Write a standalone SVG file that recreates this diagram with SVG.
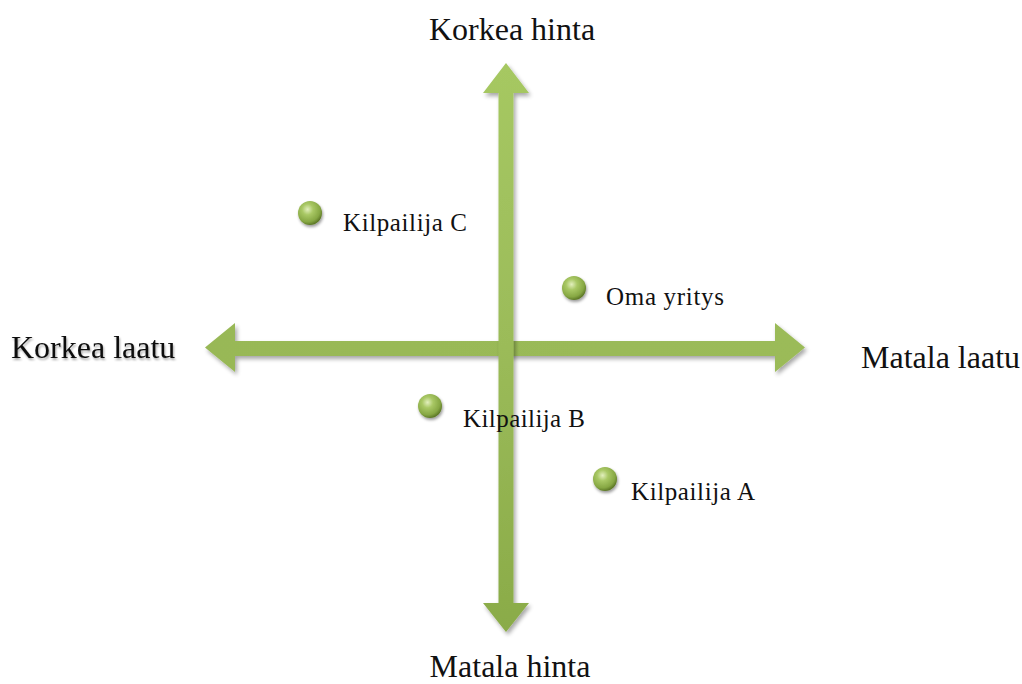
<svg xmlns="http://www.w3.org/2000/svg" width="1022" height="684" viewBox="0 0 1022 684">
  <defs>
    <style>
      .axis { font-family: "Liberation Serif", "Times New Roman", serif; font-size: 32px; fill: #111; }
      .lbl { font-family: "Liberation Serif", "Times New Roman", serif; font-size: 25px; fill: #111; }
      .arrow { stroke: none; filter: url(#shadow); }
      .ball { fill: url(#ballGrad); filter: url(#ballShadow); }
    </style>
    <linearGradient id="vGrad" x1="0" y1="0" x2="0" y2="1">
      <stop offset="0" stop-color="#a6c862"/>
      <stop offset="0.5" stop-color="#9bbb59"/>
      <stop offset="1" stop-color="#8aab48"/>
    </linearGradient>
    <linearGradient id="hGrad" x1="0" y1="0" x2="1" y2="0">
      <stop offset="0" stop-color="#98b856"/>
      <stop offset="1" stop-color="#9bbb59"/>
    </linearGradient>
    <radialGradient id="ballGrad" cx="0.4" cy="0.35" r="0.65">
      <stop offset="0" stop-color="#e2efbd"/>
      <stop offset="0.35" stop-color="#a9c865"/>
      <stop offset="0.8" stop-color="#86a743"/>
      <stop offset="1" stop-color="#5f7a28"/>
    </radialGradient>
    <filter id="shadow" x="-20%" y="-20%" width="140%" height="140%">
      <feGaussianBlur in="SourceAlpha" stdDeviation="2"/>
      <feOffset dx="2" dy="3" result="b"/>
      <feComponentTransfer><feFuncA type="linear" slope="0.35"/></feComponentTransfer>
      <feMerge><feMergeNode/><feMergeNode in="SourceGraphic"/></feMerge>
    </filter>
    <filter id="ballShadow" x="-50%" y="-50%" width="200%" height="200%">
      <feGaussianBlur in="SourceAlpha" stdDeviation="1.5"/>
      <feOffset dx="1" dy="2" result="b"/>
      <feComponentTransfer><feFuncA type="linear" slope="0.4"/></feComponentTransfer>
      <feMerge><feMergeNode/><feMergeNode in="SourceGraphic"/></feMerge>
    </filter>
    <filter id="textShadow" x="-10%" y="-30%" width="120%" height="160%">
      <feGaussianBlur in="SourceAlpha" stdDeviation="1.2"/>
      <feOffset dx="1" dy="2" result="b"/>
      <feComponentTransfer><feFuncA type="linear" slope="0.35"/></feComponentTransfer>
      <feMerge><feMergeNode/><feMergeNode in="SourceGraphic"/></feMerge>
    </filter>
  </defs>

  <g id="connectors">
    <path id="axis-horizontal" class="arrow" fill="url(#hGrad)" d="M205,347.5 L235,323 L235,341 L775,341 L775,323 L805,347.5 L775,372 L775,356 L235,356 L235,372 Z"/>
    <path id="axis-vertical" class="arrow" fill="url(#vGrad)" d="M506,63 L529,93 L513.5,93 L513.5,603 L529,603 L506,632 L483,603 L498.5,603 L498.5,93 L483,93 Z"/>
  </g>

  <g id="label-korkea-hinta"><text class="axis" x="512" y="40" text-anchor="middle">Korkea hinta</text></g>
  <g id="label-matala-hinta"><text class="axis" x="510" y="677" text-anchor="middle">Matala hinta</text></g>
  <g id="label-korkea-laatu"><text class="axis" x="11" y="358" filter="url(#textShadow)">Korkea laatu</text></g>
  <g id="label-matala-laatu"><text class="axis" x="861" y="368">Matala laatu</text></g>

  <g id="node-kilpailija-c">
    <circle class="ball" cx="310" cy="213" r="12"/>
    <text class="lbl" x="343" y="231" textLength="124" lengthAdjust="spacing">Kilpailija C</text>
  </g>
  <g id="node-oma-yritys">
    <circle class="ball" cx="574" cy="288" r="12"/>
    <text class="lbl" x="606" y="305" textLength="118" lengthAdjust="spacing">Oma yritys</text>
  </g>
  <g id="node-kilpailija-b">
    <circle class="ball" cx="430" cy="406" r="12"/>
    <text class="lbl" x="463" y="427" textLength="122" lengthAdjust="spacing">Kilpailija B</text>
  </g>
  <g id="node-kilpailija-a">
    <circle class="ball" cx="605" cy="479" r="12"/>
    <text class="lbl" x="631" y="500" textLength="124" lengthAdjust="spacing">Kilpailija A</text>
  </g>
</svg>
